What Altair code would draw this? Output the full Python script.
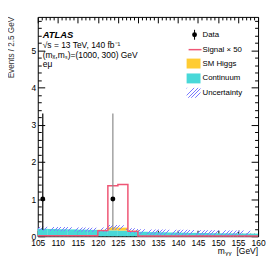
import altair as alt
import pandas as pd

# ---------------- data ----------------
bin_lo = [105.0, 107.5, 110.0, 112.5, 115.0, 117.5, 120.0, 122.5, 125.0, 127.5, 130.0,
          132.5, 135.0, 137.5, 140.0, 142.5, 145.0, 147.5, 150.0, 152.5, 155.0, 157.5]
bin_hi = [107.5, 110.0, 112.5, 115.0, 117.5, 120.0, 122.5, 125.0, 127.5, 130.0, 132.5,
          135.0, 137.5, 140.0, 142.5, 145.0, 147.5, 150.0, 152.5, 155.0, 157.5, 160.0]
continuum = [0.20, 0.195, 0.19, 0.183, 0.176, 0.17, 0.163, 0.157, 0.15, 0.14, 0.12,
             0.11, 0.105, 0.10, 0.095, 0.09, 0.085, 0.08, 0.078, 0.075, 0.072, 0.07]
sm_higgs = [0.0, 0.0, 0.0, 0.0, 0.0, 0.0, 0.01, 0.08, 0.08, 0.01, 0.0,
            0.0, 0.0, 0.0, 0.0, 0.0, 0.0, 0.0, 0.0, 0.0, 0.0, 0.0]
uncert = [0.055, 0.055, 0.056, 0.057, 0.058, 0.06, 0.062, 0.065, 0.065, 0.066, 0.07,
          0.072, 0.074, 0.075, 0.076, 0.077, 0.078, 0.079, 0.08, 0.08, 0.08, 0.08]
signal_x50 = [0.01, 0.01, 0.01, 0.01, 0.01, 0.01, 0.15, 1.36, 1.39, 0.13, 0.005,
              0.005, 0.005, 0.005, 0.005, 0.005, 0.005, 0.005, 0.005, 0.005, 0.005, 0.005]
data_x = [106.25, 123.75]
data_y = [1.0, 1.0]
data_lo = [0.173, 0.173]
data_hi = [3.30, 3.30]

x_major = [105, 110, 115, 120, 125, 130, 135, 140, 145, 150, 155, 160]
x_minor = [v for v in range(106, 160) if v % 5 != 0]
y_major = [0, 1, 2, 3, 4, 5]
y_minor = [round(i * 0.2, 1) for i in range(1, 30) if i % 5 != 0]

# ---------------- frames ----------------
W, H = 222, 221
YMAX = 5.9
total = [c + h for c, h in zip(continuum, sm_higgs)]
df = pd.DataFrame({
    "lo": bin_lo, "hi": bin_hi, "base": [0.0] * len(bin_lo),
    "cont": continuum, "tot": total,
    "ulo": [t - u for t, u in zip(total, uncert)],
    "uhi": [t + u for t, u in zip(total, uncert)],
})
step = pd.DataFrame({
    "x": bin_lo + [bin_hi[-1]],
    "sig": signal_x50 + [signal_x50[-1]],
    "ulo": list(df["ulo"]) + [df["ulo"].iloc[-1]],
    "uhi": list(df["uhi"]) + [df["uhi"].iloc[-1]],
})
pts = pd.DataFrame({"x": data_x, "y": data_y, "lo": data_lo, "hi": data_hi})
one = pd.DataFrame({"a": [0]})

xs = alt.Scale(domain=[105, 160], nice=False, zero=False)
ys = alt.Scale(domain=[0, YMAX], nice=False, zero=False)

FONT = "Liberation Sans"
HATCH = "#7a7aff"


def hatch(w, h, px=3.6, lw=0.9):
    r = h / w
    k = 1 + r * r
    dt = px / (w * k)
    lt = lw / (w * k)
    stops = []
    t = 0.0
    while t < 1.0:
        a, b = t, min(t + lt, 1.0)
        stops += [alt.GradientStop(color=HATCH, offset=a),
                  alt.GradientStop(color=HATCH, offset=b),
                  alt.GradientStop(color="rgba(255,255,255,0)", offset=b),
                  alt.GradientStop(color="rgba(255,255,255,0)", offset=min(t + dt, 1.0))]
        t += dt
    return alt.LinearGradient(gradient="linear", stops=stops, x1=0, y1=0, x2=1, y2=r)


band_h = (max(step["uhi"]) - min(step["ulo"])) * H / YMAX

X = lambda f, **k: alt.X(f, scale=xs, **k)
Y = lambda f, **k: alt.Y(f, scale=ys, **k)

cont = alt.Chart(df).mark_rect(color="#48d8d8").encode(
    x=X("lo:Q", axis=None), x2="hi", y=Y("base:Q", axis=None), y2="cont")
higgs = alt.Chart(df).mark_rect(color="#ffcc33").encode(
    x=X("lo:Q", axis=None), x2="hi", y=Y("cont:Q", axis=None), y2="tot")
unc = alt.Chart(step).mark_area(interpolate="step-after", fill=hatch(W, band_h),
                                strokeWidth=0).encode(
    x=X("x:Q", axis=None), y=Y("ulo:Q", axis=None), y2="uhi")
sig = alt.Chart(step).mark_line(interpolate="step-after", color="#ef5675",
                                strokeWidth=1.5).encode(
    x=X("x:Q", axis=None), y=Y("sig:Q", axis=None))
err = alt.Chart(pts).mark_rule(strokeWidth=1.2).encode(
    x=X("x:Q", axis=None), y=Y("lo:Q", axis=None), y2="hi",
    color=alt.condition(alt.datum.x > 120, alt.value("#8a8a8a"), alt.value("black")))
dots = alt.Chart(pts).mark_circle(size=24, color="black", opacity=1).encode(
    x=X("x:Q", axis=None), y=Y("y:Q", axis=None))


def ax(orient, values, size, labels=False):
    a = dict(orient=orient, values=values, tickSize=size, offset=-size, domain=False,
             grid=False, labels=labels, title=None, tickColor="black", tickWidth=1)
    if labels:
        a.update(labelFont=FONT, labelFontSize=8.5, labelColor="black",
                 labelPadding=2, labelFlush=False, labelOverlap=False)
    return alt.Axis(**a)


def axis_layer(xa, ya):
    return alt.Chart(df).mark_point(opacity=0).encode(
        x=X("lo:Q", axis=xa), y=Y("cont:Q", axis=ya))


axes = [
    axis_layer(ax("bottom", x_major, 6, True), ax("left", y_major, 7, True)),
    axis_layer(ax("bottom", x_minor, 3), ax("left", y_minor, 3.5)),
    axis_layer(ax("top", x_major, 6), ax("right", y_major, 7)),
    axis_layer(ax("top", x_minor, 3), ax("right", y_minor, 3.5)),
]


def txt(s, x, y, size=8.5, align="left", color="black", **k):
    return alt.Chart(one).mark_text(text=s, font=FONT, fontSize=size, align=align,
                                    baseline="middle", color=color, **k).encode(
        x=alt.value(x), y=alt.value(y))


def box(x1, x2, y1, y2, **k):
    return alt.Chart(one).mark_rect(**k).encode(
        x=alt.value(x1), x2=alt.value(x2), y=alt.value(y1), y2=alt.value(y2))


annot = [
    txt("ATLAS", 5, 18, 9.5, fontWeight="bold", fontStyle="italic"),
    txt("√s = 13 TeV, 140 fb⁻¹", 5, 28, 8.5),
    txt("(mₓ,mₛ)=(1000, 300) GeV", 5, 38, 8.5),
    txt("eμ", 5, 47, 8.5),
    # legend
    alt.Chart(one).mark_rule(color="black", strokeWidth=1).encode(
        x=alt.value(158), y=alt.value(13), y2=alt.value(23)),
    alt.Chart(one).mark_circle(size=24, color="black", opacity=1).encode(
        x=alt.value(158), y=alt.value(18)),
    txt("Data", 166, 18, 7.9),
    alt.Chart(one).mark_rule(color="#ef5675", strokeWidth=1.5).encode(
        x=alt.value(152), x2=alt.value(165), y=alt.value(33)),
    txt("Signal × 50", 166, 33, 7.9),
    box(150, 164, 42, 52, color="#ffcc33"),
    txt("SM Higgs", 166, 47, 7.9),
    box(150, 164, 57, 67, color="#48d8d8"),
    txt("Continuum", 166, 62, 7.9),
    box(150, 164, 71.5, 81.5, fill=hatch(14, 10)),
    txt("Uncertainty", 166, 77, 7.9),
    # axis titles
    txt("Events / 2.5 GeV", -25.5, 0, 8.2, align="right", color="#333333", angle=270),
    txt("[GeV]", 222, 236, 8.5, align="right"),
    txt("γγ", 189, 238, 6.2),
    txt("m", 188.5, 236, 8.5, align="right"),
]

chart = alt.layer(cont, higgs, unc, sig, err, dots, *axes, *annot).resolve_axis(
    x="independent", y="independent"
).properties(
    width=W, height=H,
    autosize=alt.AutoSizeParams(type="none"),
    padding={"left": 30, "top": 8, "right": 8, "bottom": 22},
).configure_view(stroke="black", strokeWidth=1)

chart.save("out.html", embed_options={"renderer": "svg", "actions": False})
